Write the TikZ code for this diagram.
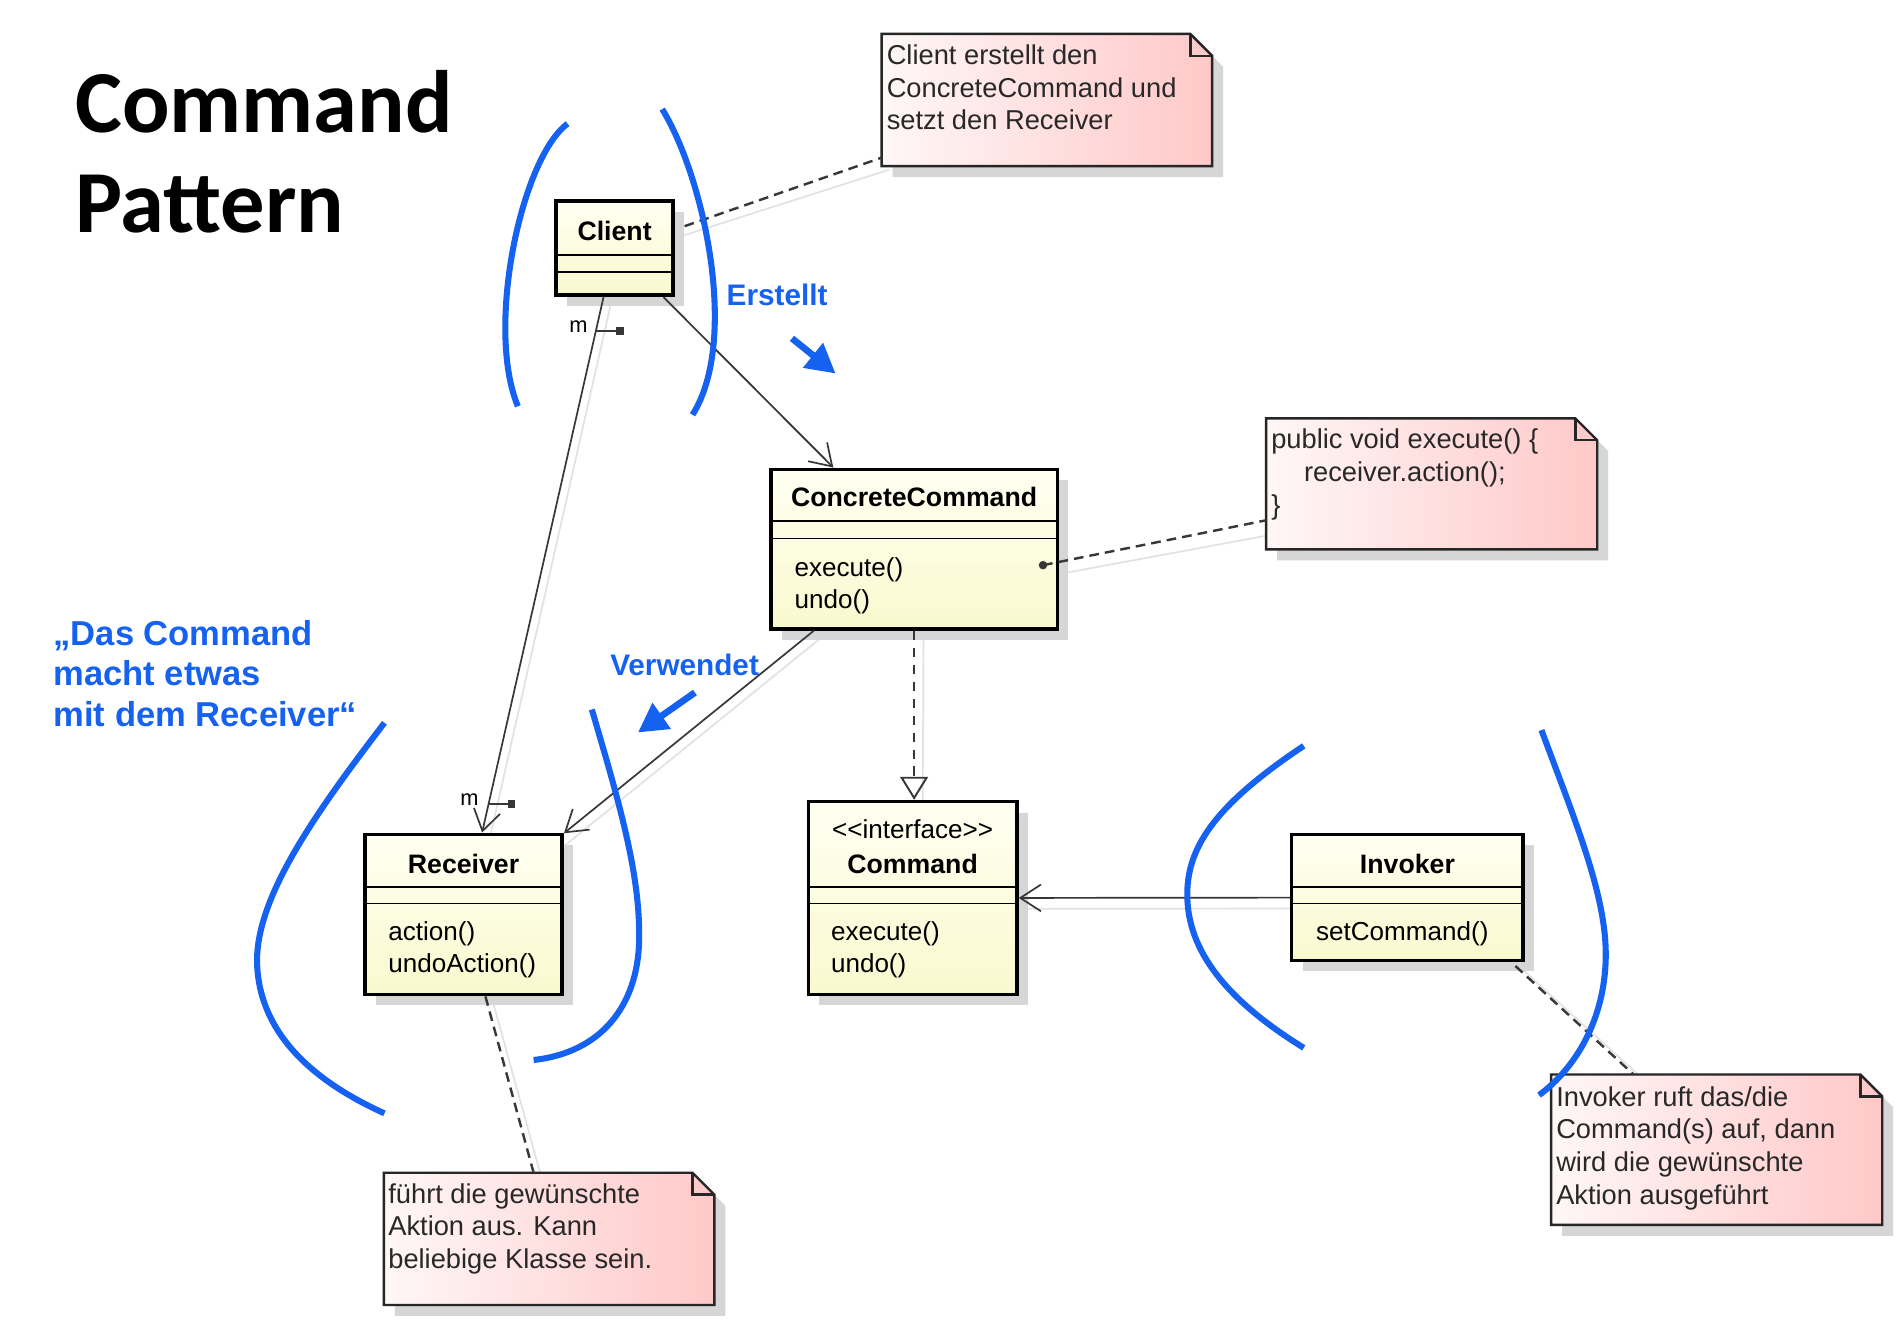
\documentclass[tikz,border=0pt]{standalone}
\usepackage{fontspec}
\newfontfamily\umlfont{Liberation Sans}
\newfontfamily\titlefont{Carlito}
\usetikzlibrary{arrows.meta,calc,shadows}
\pgfdeclarelayer{bglayer}
\pgfdeclarelayer{shadelayer}
\pgfsetlayers{bglayer,shadelayer,main}

\definecolor{bluemark}{RGB}{22,98,240}
\definecolor{linec}{RGB}{55,55,55}
\definecolor{shadowc}{RGB}{214,214,214}
\definecolor{lineshadow}{RGB}{226,226,226}
\definecolor{classtop}{RGB}{255,255,242}
\definecolor{classbot}{RGB}{249,249,206}
\definecolor{notel}{RGB}{255,247,247}
\definecolor{noter}{RGB}{255,200,200}
\definecolor{notetextc}{RGB}{40,40,40}

\tikzset{
  classbox/.style={draw=black, line width=3pt, top color=classtop, bottom color=classbot,
    inner sep=0pt, outer sep=1.5pt,
    drop shadow={shadow xshift=9pt, shadow yshift=-9pt, fill=shadowc, opacity=1}},
  divider/.style={draw=black, line width=1.5pt},
  uname/.style={font=\umlfont\bfseries\fontsize{22}{26}\selectfont, inner sep=0pt, anchor=base},
  ustereo/.style={font=\umlfont\fontsize{21.5}{26}\selectfont, inner sep=0pt, anchor=base},
  umeth/.style={font=\umlfont\fontsize{21.5}{26}\selectfont, inner sep=0pt, anchor=base west},
  notefield/.style={draw=none, inner sep=0pt, outer sep=0pt},
  notebody/.style={draw=black!85, line width=2pt, left color=notel, right color=noter,
    drop shadow={shadow xshift=9pt, shadow yshift=-9pt, fill=shadowc, opacity=1}},
  notefold/.style={draw=black!85, line width=2pt},
  notetext/.style={font=\umlfont\fontsize{22.5}{26}\selectfont, inner sep=0pt, anchor=base west, text=notetextc},
  conn/.style={draw=linec, line width=1.4pt},
  barb/.style={-{Straight Barb[length=17pt,width=22pt,line width=1.4pt]}},
  realize/.style={draw=linec, line width=1.6pt, dash pattern=on 8pt off 6pt,
    -{Triangle[open,length=19pt,width=23pt,line width=1.6pt]}},
  notelink/.style={draw=linec, line width=2pt, dash pattern=on 8pt off 5pt},
  lineshade/.style={draw=lineshadow, line width=1.4pt},
  bluearc/.style={draw=bluemark, line width=5pt},
  bluearrow/.style={draw=bluemark, line width=5.5pt, -{Triangle[length=24pt,width=25pt]}},
  bluelabel/.style={font=\umlfont\bfseries\fontsize{24.5}{28}\selectfont, text=bluemark, inner sep=0pt, anchor=base west},
  bluequote/.style={font=\umlfont\bfseries\fontsize{28.5}{33}\selectfont, text=bluemark, inner sep=0pt, anchor=base west},
  titletext/.style={font=\titlefont\bfseries\fontsize{73}{88}\selectfont, inner sep=0pt, anchor=base west},
  multlabel/.style={font=\umlfont\fontsize{18}{20}\selectfont, inner sep=0pt, anchor=base},
}

\newcommand\drawnote[1]{%
  \path[notebody] (#1.north west) -- ($(#1.north east)+(-18,0)$) -- ($(#1.north east)+(0,18)$)
     -- (#1.south east) -- (#1.south west) -- cycle;
  \draw[notefold] ($(#1.north east)+(-18,0)$) -- ($(#1.north east)+(-18,18)$) -- ($(#1.north east)+(0,18)$);
}

\begin{document}
\begin{tikzpicture}[x=1pt,y=-1pt]
\begin{pgfonlayer}{bglayer}
  \fill[white] (0,0) rectangle (1565,1105);
\end{pgfonlayer}
\useasboundingbox (0,0) rectangle (1565,1105);

% ---------- title and blue texts ----------
\node[titletext] (title1) at (62,109) {Command};
\node[titletext] (title2) at (62,192) {Pattern};

\node[bluequote] (q1) at (44,532) {„Das Command};
\node[bluequote] (q2) at (44,565.5) {macht etwas};
\node[bluequote] (q3) at (44,599) {mit dem Receiver“};

\node[bluelabel] (erstellt) at (599,252) {Erstellt};
\node[bluelabel] (verwendet) at (503,557) {Verwendet};

% ---------- class boxes ----------
\node[classbox, minimum width=96.5pt, minimum height=78pt] (client) at (506.75,204.5) {};
\node[classbox, minimum width=236.5pt, minimum height=131.5pt] (cc) at (753.75,452.75) {};
\node[classbox, minimum width=172pt, minimum height=159pt] (command) at (752.5,740.5) {};
\node[classbox, minimum width=162.5pt, minimum height=132pt] (receiver) at (382.25,754) {};
\node[classbox, minimum width=191pt, minimum height=104pt] (invoker) at (1160.5,740) {};

% dividers
\draw[divider] ($(client.north west)+(1.5,46)$) -- ($(client.north east)+(-1.5,46)$);
\draw[divider] ($(client.north west)+(1.5,60)$) -- ($(client.north east)+(-1.5,60)$);
\draw[divider] ($(cc.north west)+(1.5,44)$) -- ($(cc.north east)+(-1.5,44)$);
\draw[divider] ($(cc.north west)+(1.5,58.5)$) -- ($(cc.north east)+(-1.5,58.5)$);
\draw[divider] ($(command.north west)+(1.5,72)$) -- ($(command.north east)+(-1.5,72)$);
\draw[divider] ($(command.north west)+(1.5,85.5)$) -- ($(command.north east)+(-1.5,85.5)$);
\draw[divider] ($(receiver.north west)+(1.5,45)$) -- ($(receiver.north east)+(-1.5,45)$);
\draw[divider] ($(receiver.north west)+(1.5,58.5)$) -- ($(receiver.north east)+(-1.5,58.5)$);
\draw[divider] ($(invoker.north west)+(1.5,45)$) -- ($(invoker.north east)+(-1.5,45)$);
\draw[divider] ($(invoker.north west)+(1.5,58.5)$) -- ($(invoker.north east)+(-1.5,58.5)$);

% class texts
\node[uname] (clientname) at (506.75,198) {Client};
\node[uname] (ccname) at (753.75,418) {ConcreteCommand};
\node[umeth] (ccm1) at (655,475) {execute()};
\node[umeth] (ccm2) at (655,501.5) {undo()};
\node[ustereo] (cmdst) at (752.5,691) {\textless\textless interface\textgreater\textgreater};
\node[uname] (cmdname) at (752.5,720) {Command};
\node[umeth] (cmdm1) at (685,775.5) {execute()};
\node[umeth] (cmdm2) at (685,802) {undo()};
\node[uname] (recname) at (382.25,720) {Receiver};
\node[umeth] (recm1) at (320,775.5) {action()};
\node[umeth] (recm2) at (320,802) {undoAction()};
\node[uname] (invname) at (1160.5,720) {Invoker};
\node[umeth] (invm1) at (1085,775.5) {setCommand()};

% ---------- notes ----------
\node[notefield, minimum width=272.5pt, minimum height=109pt] (n1) at (863.25,82.5) {};
\node[notefield, minimum width=273pt, minimum height=108pt] (n2) at (1180.5,399) {};
\node[notefield, minimum width=272.5pt, minimum height=109pt] (n3) at (452.75,1021.5) {};
\node[notefield, minimum width=273pt, minimum height=124pt] (n4) at (1415.5,948) {};
\drawnote{n1}
\drawnote{n2}
\drawnote{n3}
\drawnote{n4}

\node[notetext] (n1a) at (731,53) {Client erstellt den};
\node[notetext] (n1b) at (731,80) {ConcreteCommand und};
\node[notetext] (n1c) at (731,107) {setzt den Receiver};

\node[notetext] (n2a) at (1048,370) {public void execute() \{};
\node[notetext] (n2b) at (1075,397) {receiver.action();};
\node[notetext] (n2c) at (1048,424) {\}};

\node[notetext] (n3a) at (320,992) {führt die gewünschte};
\node[notetext] (n3b) at (320,1019) {Aktion aus. Kann};
\node[notetext] (n3c) at (320,1046) {beliebige Klasse sein.};

\node[notetext] (n4a) at (1283,912) {Invoker ruft das/die};
\node[notetext] (n4b) at (1283,939) {Command(s) auf, dann};
\node[notetext] (n4c) at (1283,966) {wird die gewünschte};
\node[notetext] (n4d) at (1283,993) {Aktion ausgeführt};

% ---------- connector shadows ----------
\begin{pgfonlayer}{shadelayer}
  \draw[lineshade] ($(client)+(6,6)$) -- ($(receiver)+(6,6)$);
  \draw[lineshade] ($(client)+(6,6)$) -- ($(cc)+(6,6)$);
  \draw[lineshade] ($(cc)+(6,6)$) -- ($(receiver)+(6,6)$);
  \draw[lineshade] ($(invoker)+(0,9)$) -- ($(command)+(0,9)$);
  \draw[lineshade] ($(cc)+(8,0)$) -- ($(command)+(8,0)$);
  \draw[lineshade] ($(client.east)+(6,-10)$) -- ($(n1.south west)+(6,3)$);
  \draw[lineshade] ($(cc.east)+(-8,22)$) -- ($(n2.south west)+(4,-12)$);
  \draw[lineshade] ($(receiver.south)+(24,4)$) -- ($(n3.north west)+(130,4)$);
  \draw[lineshade] ($(invoker.south east)+(-2,6)$) -- ($(n4.north west)+(76,4)$);
\end{pgfonlayer}

% ---------- connectors ----------
\draw[conn, barb] (client) -- (receiver);
\draw[conn, barb] (client) -- (cc);
\draw[conn, barb] (cc) -- (receiver);
\draw[conn, barb] (invoker) -- (command);
\draw[realize] (cc.south) -- (cc.south |- command.north);

% multiplicity marks
\coordinate (mk1) at ($(client)!0.1247!(receiver)$);
\coordinate (mk2) at ($(client)!0.8344!(receiver)$);
\draw[conn] (mk1) -- ++(20,0) coordinate (mk1e);
\fill[linec] ($(mk1e)+(-3,-3)$) rectangle ($(mk1e)+(3,3)$);
\draw[conn] (mk2) -- ++(19,0) coordinate (mk2e);
\fill[linec] ($(mk2e)+(-3,-3)$) rectangle ($(mk2e)+(3,3)$);
\node[multlabel] (m1) at (477,274) {m};
\node[multlabel] (m2) at (387,664) {m};

% note links
\draw[notelink] ($(client.east)+(8,-18)$) -- ($(n1.south west)+(0,-7)$);
\coordinate (ccdot) at ($(cc.east)+(-13.5,13.25)$);
\draw[notelink] (ccdot) -- ($(n2.south west)+(0,-24)$);
\fill[linec] (ccdot) circle (3.5);
\draw[notelink] ($(receiver.south)+(18,0)$) -- ($(n3.north west)+(123.5,0)$);
\draw[notelink] ($(invoker.south east)+(-8,3)$) -- ($(n4.north west)+(68,0)$);

% ---------- blue marks ----------
\draw[bluearc] (468,102) .. controls (430,130) and (400,270) .. (427,335);
\draw[bluearc] (546,90) .. controls (580,145) and (610,280) .. (571,342);
\draw[bluearc] (317,596) .. controls (262,668) and (210,740) .. (212,795)
               .. controls (214,850) and (255,890) .. (317,918);
\draw[bluearc] (488,585) .. controls (510,660) and (528,720) .. (527,775)
               .. controls (526,830) and (495,868) .. (440,874);
\draw[bluearc] (1075,615) .. controls (1000,665) and (978,700) .. (979,740)
               .. controls (980,790) and (1020,830) .. (1075,864);
\draw[bluearc] (1271,602) .. controls (1300,680) and (1325,740) .. (1324,790)
               .. controls (1323,840) and (1300,880) .. (1269,903);

\coordinate (ea1) at (653,279);
\coordinate (ea2) at (689,308);
\draw[bluearrow] (ea1) -- (ea2);
\coordinate (va1) at (573,571);
\coordinate (va2) at (526,604);
\draw[bluearrow] (va1) -- (va2);
\end{tikzpicture}
\end{document}
